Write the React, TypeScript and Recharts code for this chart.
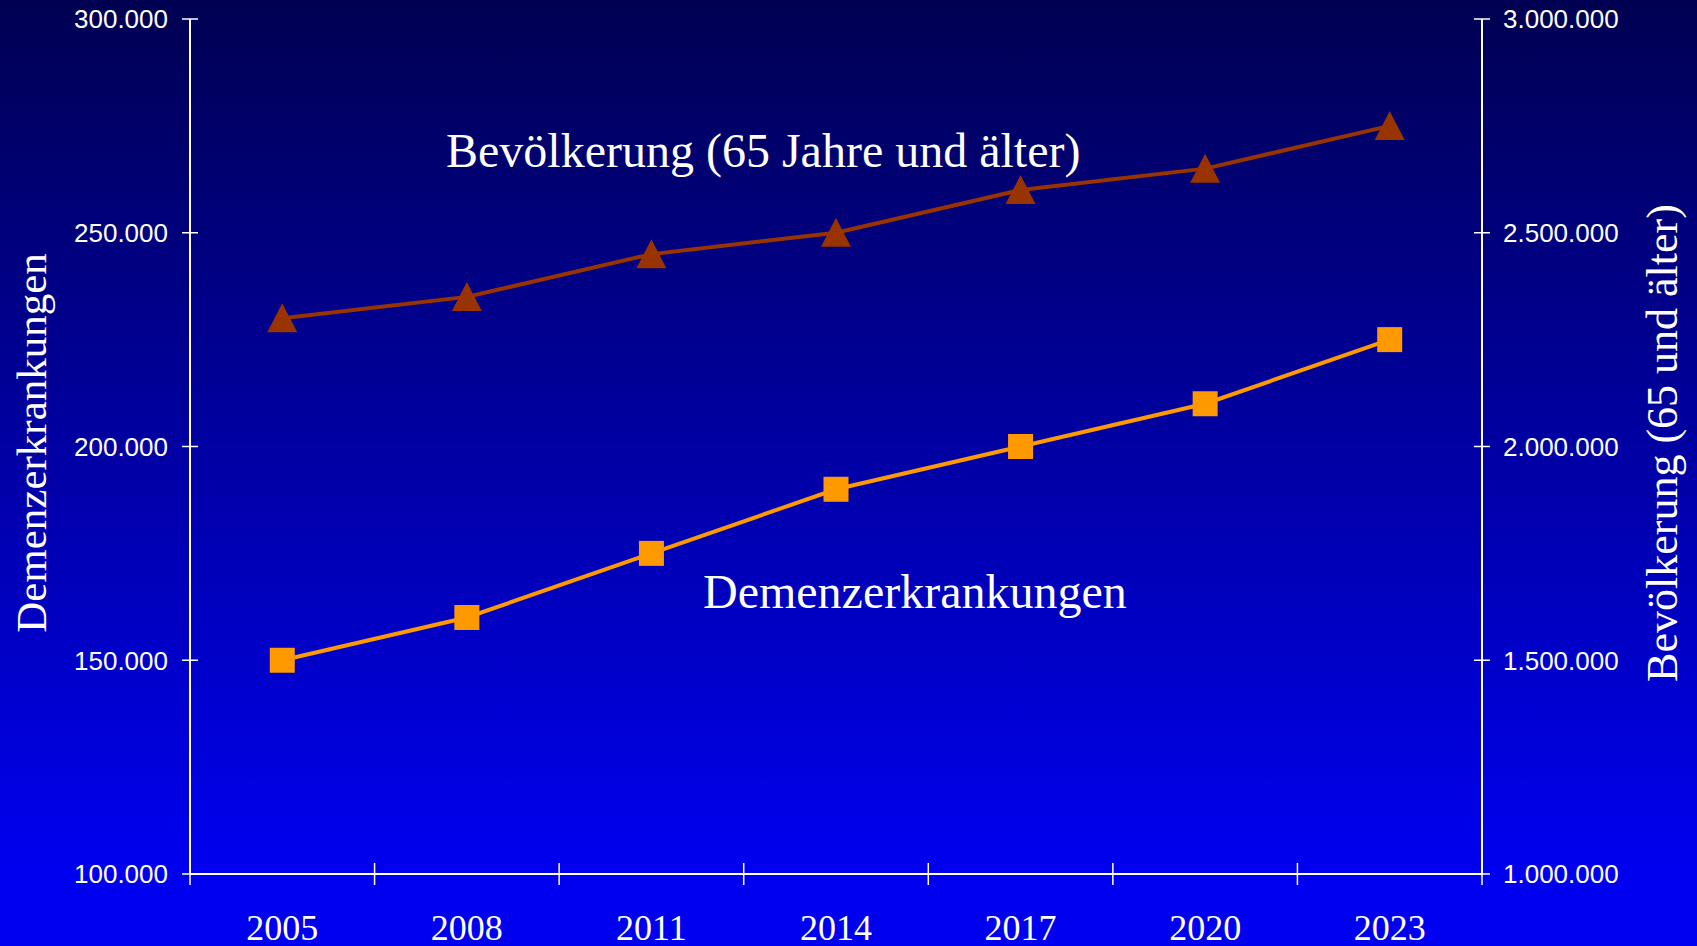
import { LineChart, Line, XAxis, YAxis } from 'recharts';

const years = ['2005', '2008', '2011', '2014', '2017', '2020', '2023'];
const demenz = [150000, 160000, 175000, 190000, 200000, 210000, 225000];
const bevoelkerung = [2300000, 2350000, 2450000, 2500000, 2600000, 2650000, 2750000];
const leftTicks = [100000, 150000, 200000, 250000, 300000];
const rightTicks = [1000000, 1500000, 2000000, 2500000, 3000000];

const W = 1697;
const H = 946;
const SERIF = '"Liberation Serif", "Times New Roman", serif';
const SANS = '"Liberation Sans", Arial, sans-serif';

const data = years.map((y, i) => ({ idx: i, year: y, demenz: demenz[i], bev: bevoelkerung[i] }));

// centers carry the year labels, half steps carry the tick marks between categories
const xTicks = [
  ...years.map((_, i) => i - 0.5),
  years.length - 0.5,
  ...years.map((_, i) => i),
];

const fmt = (v: number) => String(v).replace(/\B(?=(\d{3})+(?!\d))/g, '.');

function XTick({ x, y, payload }: any) {
  const v = payload.value;
  if (Number.isInteger(v)) {
    return (
      <text x={x} y={y + 66} textAnchor="middle" fill="#fff" fontSize={36} fontFamily={SERIF}>
        {years[v]}
      </text>
    );
  }
  return <line x1={x} x2={x} y1={y - 11} y2={y + 11} stroke="#fff" strokeWidth={1.5} />;
}

function LeftTick({ x, y, payload }: any) {
  return (
    <g>
      <line x1={x - 8} x2={x + 8} y1={y} y2={y} stroke="#fff" strokeWidth={1.5} />
      <text x={x - 22} y={y} dy="0.36em" textAnchor="end" fill="#fff" fontSize={26} fontFamily={SANS}>
        {fmt(payload.value)}
      </text>
    </g>
  );
}

function RightTick({ x, y, payload }: any) {
  return (
    <g>
      <line x1={x - 8} x2={x + 8} y1={y} y2={y} stroke="#fff" strokeWidth={1.5} />
      <text x={x + 21} y={y} dy="0.36em" textAnchor="start" fill="#fff" fontSize={26} fontFamily={SANS}>
        {fmt(payload.value)}
      </text>
    </g>
  );
}

function SquareDot({ cx, cy }: any) {
  if (cx == null || cy == null) return null;
  return <rect x={cx - 12.5} y={cy - 12.5} width={25} height={25} fill="#FF9900" />;
}

function TriangleDot({ cx, cy }: any) {
  if (cx == null || cy == null) return null;
  return <polygon points={`${cx},${cy - 15} ${cx + 15},${cy + 14} ${cx - 15},${cy + 14}`} fill="#993300" />;
}

export default function App() {
  return (
    <div
      style={{
        position: 'absolute',
        left: 0,
        top: 0,
        width: W,
        height: H,
        background: 'linear-gradient(to bottom, #000052 0%, #0000F0 92%, #0000F0 100%)',
      }}
    >
      <LineChart width={W} height={H} data={data} margin={{ top: 19, right: 0, bottom: 0, left: 0 }}>
        <XAxis
          dataKey="idx"
          type="number"
          domain={[-0.5, years.length - 0.5]}
          ticks={xTicks}
          interval={0}
          height={72}
          tickSize={0}
          tickMargin={0}
          tickLine={false}
          axisLine={{ stroke: '#fff', strokeWidth: 2 }}
          tick={<XTick />}
        />
        <YAxis
          yAxisId="left"
          orientation="left"
          width={190}
          domain={[100000, 300000]}
          ticks={leftTicks}
          interval={0}
          tickSize={0}
          tickMargin={0}
          tickLine={false}
          axisLine={{ stroke: '#fff', strokeWidth: 2 }}
          tick={<LeftTick />}
        />
        <YAxis
          yAxisId="right"
          orientation="right"
          width={215}
          domain={[1000000, 3000000]}
          ticks={rightTicks}
          interval={0}
          tickSize={0}
          tickMargin={0}
          tickLine={false}
          axisLine={{ stroke: '#fff', strokeWidth: 2 }}
          tick={<RightTick />}
        />
        <Line
          yAxisId="right"
          dataKey="bev"
          stroke="#993300"
          strokeWidth={4}
          dot={<TriangleDot />}
          activeDot={false}
          isAnimationActive={false}
        />
        <Line
          yAxisId="left"
          dataKey="demenz"
          stroke="#FF9900"
          strokeWidth={4}
          dot={<SquareDot />}
          activeDot={false}
          isAnimationActive={false}
        />
      </LineChart>
      <svg width={W} height={H} style={{ position: 'absolute', left: 0, top: 0, pointerEvents: 'none' }}>
        <text x={446} y={167} fill="#fff" fontSize={48} fontFamily={SERIF}>
          Bevölkerung (65 Jahre und älter)
        </text>
        <text x={703} y={608} fill="#fff" fontSize={48} fontFamily={SERIF}>
          Demenzerkrankungen
        </text>
        <text
          x={46}
          y={443}
          transform="rotate(-90, 46, 443)"
          textAnchor="middle"
          fill="#fff"
          fontSize={43}
          fontFamily={SERIF}
        >
          Demenzerkrankungen
        </text>
        <text
          x={1677}
          y={443}
          transform="rotate(-90, 1677, 443)"
          textAnchor="middle"
          fill="#fff"
          fontSize={44}
          fontFamily={SERIF}
        >
          Bevölkerung (65 und älter)
        </text>
      </svg>
    </div>
  );
}
